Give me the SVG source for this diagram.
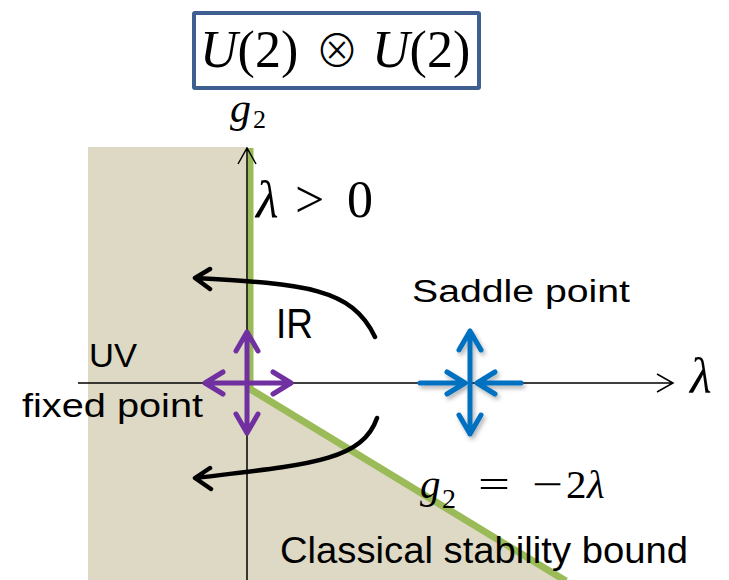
<svg xmlns="http://www.w3.org/2000/svg" width="729" height="580" viewBox="0 0 729 580">
<defs>
<style>
.math{font-family:"Liberation Serif","DejaVu Serif",serif;font-style:italic;fill:#000}
.up{font-style:normal}
.lbl{font-family:"Liberation Sans","Open Sans",sans-serif;fill:#000}
.axis{stroke:#000;stroke-width:1.5;fill:none}
.pur{stroke:#7030a0;stroke-width:5;fill:none;stroke-linecap:round;stroke-linejoin:round}
.blu{stroke:#0070c0;stroke-width:5;fill:none;stroke-linecap:round;stroke-linejoin:round}
.flow{stroke:#000;stroke-width:4.5;fill:none;stroke-linecap:round;stroke-linejoin:round}
</style>
<filter id="sh" x="-20%" y="-20%" width="140%" height="140%">
<feDropShadow dx="2" dy="3" stdDeviation="2" flood-color="#000" flood-opacity="0.3"/>
</filter>
</defs>
<rect width="729" height="580" fill="#fff"/>
<polygon points="88,147 247,147 247,390 565,580 88,580" fill="#ddd9c4"/>
<g id="bound">
<line x1="250.5" y1="148" x2="250.5" y2="390" stroke="#9bbb59" stroke-width="6"/>
<line x1="250" y1="389" x2="566" y2="581" stroke="#9bbb59" stroke-width="7"/>
</g>
<g id="connectors">
<g id="axes">
<path class="axis" d="M247,580 V148 M238,164 L247,148 L256,164"/>
<path class="axis" d="M78,383 H673 M657,374 L673,383 L657,392"/>
</g>
<g id="uv-arrows">
<path class="pur" d="M247,383 V332 M236,351 L247,332 L258,351"/>
<path class="pur" d="M247,383 V433 M236,414 L247,433 L258,414"/>
<path class="pur" d="M247,383 H205 M223,372 L205,383 L223,394"/>
<path class="pur" d="M247,383 H291 M273,372 L291,383 L273,394"/>
</g>
<g id="saddle-arrows" filter="url(#sh)">
<path class="blu" d="M470,383 V331 M459,350 L470,331 L481,350"/>
<path class="blu" d="M470,383 V434 M459,415 L470,434 L481,415"/>
<path class="blu" d="M420,383 H465 M447,372 L465,383 L447,394"/>
<path class="blu" d="M521,383 H477 M495,372 L477,383 L495,394"/>
</g>
<g id="flows">
<path class="flow" d="M375,337 C352,288 305,284 195,278 M210,269 L195,278 L210,289"/>
<path class="flow" d="M377,418 C362,462 305,465 195,478 M210,468 L195,478 L211,489"/>
</g>
</g>
<g id="title">
<rect x="194" y="13" width="285" height="75" fill="#fff" stroke="#3e5f8f" stroke-width="4" rx="1"/>
<text class="math" x="200" y="67" font-size="52">U<tspan class="up">(2)</tspan><tspan class="up" x="315" font-family="'Noto Sans CJK JP','DejaVu Sans',sans-serif" font-weight="300" font-size="44">⊗</tspan><tspan x="372">U</tspan><tspan class="up">(2)</tspan></text>
</g>
<g id="labels">
<text class="math" x="230" y="122" font-size="42">g<tspan class="up" x="253" y="128" font-size="26">2</tspan></text>
<text class="math" y="217" font-size="52"><tspan x="256">λ</tspan><tspan class="up" x="295">&gt;</tspan><tspan class="up" x="347">0</tspan></text>
<text class="math" x="690" y="393" font-size="50">λ</text>
<text class="math" y="498" font-size="41"><tspan x="420">g</tspan><tspan class="up" x="442" y="508" font-size="28">2</tspan><tspan class="up" x="478" y="498" textLength="32" lengthAdjust="spacingAndGlyphs">=</tspan><tspan class="up" x="532" textLength="31" lengthAdjust="spacingAndGlyphs">−</tspan><tspan class="up" x="566">2</tspan><tspan x="587">λ</tspan></text>
<text class="lbl" x="276" y="338" font-size="42" textLength="37" lengthAdjust="spacingAndGlyphs">IR</text>
<text class="lbl" x="412" y="302" font-size="31" textLength="218" lengthAdjust="spacingAndGlyphs">Saddle point</text>
<text class="lbl" x="89" y="367" font-size="34" textLength="48" lengthAdjust="spacingAndGlyphs">UV</text>
<text class="lbl" x="22" y="417" font-size="34" textLength="181" lengthAdjust="spacingAndGlyphs">fixed point</text>
<text class="lbl" x="280" y="563" font-size="36" textLength="408" lengthAdjust="spacingAndGlyphs">Classical stability bound</text>
</g>
</svg>
